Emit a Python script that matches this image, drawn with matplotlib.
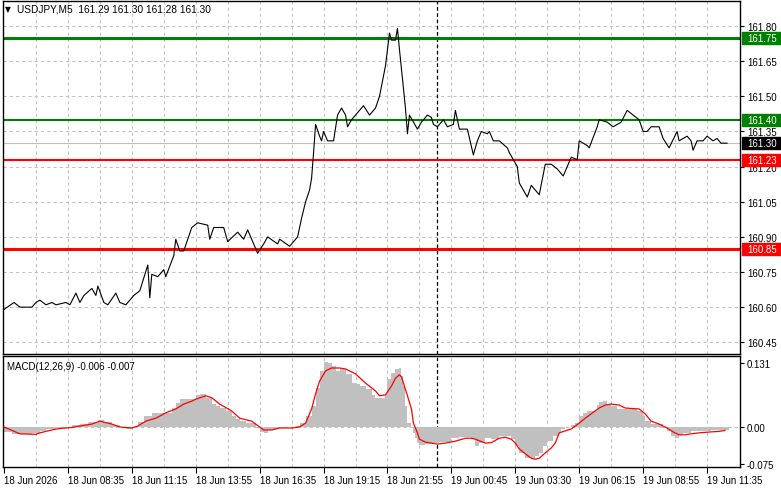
import numpy as np
import matplotlib
matplotlib.use("Agg")
import matplotlib.pyplot as plt
import matplotlib.transforms as mtransforms
from matplotlib.patches import Rectangle

plt.rcParams['font.family'] = ['Liberation Sans', 'DejaVu Sans']

# ---------------------------------------------------------------
# data (bar index on M5, close price)
price_bar = [0, 5, 8, 14, 16, 18, 21, 24, 26, 31, 33, 36, 38, 40, 44, 46, 47, 50, 52, 56,
             58, 61, 65, 68, 72, 73, 74, 77, 80, 81, 85, 86, 88, 90, 94, 97, 102, 103, 105, 110,
             112, 117, 120, 122, 124, 127, 130, 132, 137, 138, 143, 147, 149, 151, 153, 154, 155, 156, 158, 159,
             160, 162, 165, 167, 169, 171, 172, 174, 177, 180, 183, 186, 188, 191, 193, 194, 196, 197, 198, 201,
             202, 203, 205, 207, 209, 212, 214, 215, 217, 220, 222, 225, 226, 228, 232, 235, 237, 239, 242, 243,
             245, 248, 252, 253, 257, 258, 260, 262, 264, 267, 268, 271, 274, 277, 280, 282, 284, 287, 288, 292,
             293, 297, 298, 302, 305, 309, 312, 315, 318, 320, 322, 324, 328, 330, 333, 337, 338, 342, 344, 345,
             347, 350, 352, 355, 357, 359, 362]
price_close = [160.59, 160.62, 160.60, 160.60, 160.62, 160.63, 160.61, 160.62, 160.61, 160.62, 160.61, 160.66, 160.62, 160.65, 160.68, 160.65, 160.69, 160.62, 160.61, 160.66,
               160.62, 160.61, 160.65, 160.67, 160.78, 160.64, 160.74, 160.73, 160.76, 160.73, 160.82, 160.89, 160.84, 160.84, 160.94, 160.96, 160.95, 160.89, 160.94, 160.94,
               160.88, 160.92, 160.89, 160.93, 160.89, 160.83, 160.87, 160.90, 160.87, 160.89, 160.86, 160.90, 160.98, 161.05, 161.10, 161.15, 161.26, 161.38, 161.33, 161.31,
               161.35, 161.31, 161.31, 161.42, 161.45, 161.42, 161.37, 161.40, 161.43, 161.46, 161.42, 161.45, 161.50, 161.63, 161.77, 161.74, 161.74, 161.79, 161.70, 161.45,
               161.34, 161.42, 161.39, 161.36, 161.39, 161.42, 161.41, 161.38, 161.37, 161.40, 161.37, 161.38, 161.44, 161.36, 161.36, 161.25, 161.31, 161.35, 161.34, 161.35,
               161.31, 161.31, 161.28, 161.26, 161.20, 161.13, 161.10, 161.07, 161.12, 161.09, 161.08, 161.21, 161.21, 161.19, 161.16, 161.20, 161.24, 161.23, 161.31, 161.29,
               161.28, 161.37, 161.40, 161.39, 161.37, 161.39, 161.44, 161.42, 161.40, 161.35, 161.35, 161.37, 161.37, 161.32, 161.28, 161.35, 161.31, 161.33, 161.31, 161.27,
               161.31, 161.31, 161.33, 161.31, 161.32, 161.30, 161.30]

hist_bar = [0, 4, 8, 14, 18, 21, 26, 31, 34, 38, 42, 47, 50, 54, 58, 61, 64, 67, 70, 74,
            78, 84, 86, 88, 94, 96, 98, 101, 104, 106, 108, 111, 114, 116, 118, 121, 124, 126, 128, 130,
            132, 136, 141, 146, 148, 151, 154, 156, 158, 160, 162, 164, 166, 168, 171, 174, 176, 178, 181, 184,
            186, 188, 191, 192, 194, 196, 198, 199, 200, 201, 202, 204, 205, 206, 207, 208, 211, 214, 218, 224,
            228, 234, 236, 238, 241, 244, 248, 251, 254, 256, 258, 261, 264, 266, 268, 270, 272, 275, 278, 279,
            281, 284, 286, 288, 290, 292, 294, 297, 298, 300, 302, 304, 307, 312, 314, 317, 320, 321, 324, 327,
            330, 332, 334, 336, 338, 340, 344, 348, 354, 358, 362]
hist_val = [-0.010, -0.014, -0.014, -0.012, -0.008, -0.004, -0.003, -0.001, 0.004, 0.006, 0.010, 0.014, 0.010, 0.004, 0.000, -0.004, -0.002, 0.010, 0.023, 0.029,
            0.029, 0.039, 0.049, 0.057, 0.057, 0.066, 0.068, 0.060, 0.047, 0.043, 0.039, 0.033, 0.023, 0.016, 0.012, 0.008, 0.008, -0.002, -0.010, -0.012,
            -0.006, -0.002, 0.000, 0.002, 0.008, 0.023, 0.043, 0.080, 0.115, 0.133, 0.131, 0.125, 0.115, 0.119, 0.109, 0.090, 0.088, 0.084, 0.078, 0.066,
            0.060, 0.060, 0.068, 0.098, 0.111, 0.119, 0.121, 0.105, 0.084, 0.043, 0.008, 0.000, -0.012, -0.023, -0.033, -0.037, -0.035, -0.033, -0.031, -0.023,
            -0.021, -0.025, -0.039, -0.033, -0.023, -0.025, -0.018, -0.018, -0.025, -0.039, -0.053, -0.064, -0.066, -0.059, -0.053, -0.039, -0.029, -0.018, -0.012, -0.004,
            0.000, 0.004, 0.008, 0.023, 0.029, 0.033, 0.033, 0.045, 0.051, 0.053, 0.047, 0.043, 0.037, 0.037, 0.037, 0.033, 0.023, 0.012, 0.006, 0.006,
            -0.002, -0.008, -0.018, -0.023, -0.016, -0.012, -0.008, -0.008, -0.007, -0.007, -0.006]

sig_bar = [0, 8, 16, 18, 24, 28, 34, 38, 44, 48, 54, 58, 64, 67, 71, 76, 81, 86, 90, 94,
           96, 101, 104, 108, 114, 118, 124, 126, 130, 134, 138, 144, 148, 151, 154, 156, 158, 161, 164, 168,
           171, 176, 181, 186, 188, 191, 194, 196, 198, 199, 200, 202, 204, 205, 207, 208, 211, 214, 217, 221,
           226, 231, 234, 236, 241, 244, 248, 251, 254, 256, 258, 261, 264, 266, 268, 271, 274, 276, 278, 281,
           284, 286, 288, 291, 294, 296, 298, 301, 304, 308, 311, 314, 318, 321, 324, 328, 332, 335, 338, 341,
           344, 348, 354, 358, 361]
sig_val = [0.000, -0.014, -0.015, -0.012, -0.006, -0.003, -0.001, 0.002, 0.006, 0.012, 0.006, 0.000, -0.002, 0.002, 0.012, 0.018, 0.029, 0.037, 0.047, 0.053,
           0.057, 0.064, 0.060, 0.047, 0.033, 0.018, 0.012, 0.006, -0.006, -0.006, -0.002, -0.002, 0.000, 0.008, 0.037, 0.068, 0.094, 0.115, 0.121, 0.121,
           0.119, 0.109, 0.090, 0.074, 0.064, 0.066, 0.084, 0.100, 0.107, 0.103, 0.090, 0.064, 0.037, 0.008, -0.012, -0.025, -0.031, -0.033, -0.035, -0.033,
           -0.029, -0.023, -0.023, -0.025, -0.033, -0.032, -0.023, -0.021, -0.025, -0.033, -0.045, -0.055, -0.064, -0.066, -0.064, -0.053, -0.043, -0.033, -0.012, -0.008,
           -0.004, 0.002, 0.008, 0.018, 0.027, 0.033, 0.039, 0.045, 0.047, 0.045, 0.039, 0.038, 0.037, 0.027, 0.012, 0.006, -0.002, -0.010, -0.016, -0.016,
           -0.014, -0.012, -0.010, -0.009, -0.007]

# horizontal levels: (price, colour, line width in pt)
levels = [(161.75, '#008000', 2.2), (161.40, '#008000', 1.5),
          (161.23, '#ff0000', 1.5), (160.85, '#ff0000', 2.2)]
last_price = 161.30
separator_bar = 217

price_ticks = [161.80, 161.65, 161.50, 161.35, 161.20, 161.05, 160.90, 160.75, 160.60, 160.45]
macd_ticks = [0.131, 0.0, -0.075]
macd_tick_labels = ['0.131', '0.00', '-0.075']
date_labels = ['18 Jun 2026', '18 Jun 08:35', '18 Jun 11:15', '18 Jun 13:55', '18 Jun 16:35',
               '18 Jun 19:15', '18 Jun 21:55', '19 Jun 00:45', '19 Jun 03:30', '19 Jun 06:15',
               '19 Jun 08:55', '19 Jun 11:35']
label_step = 32
grid_step = 16

# ---------------------------------------------------------------
W, H = 781, 489
fig = plt.figure(figsize=(W / 100, H / 100), dpi=100)
fig.patch.set_facecolor('white')


def px_axes(x0, y0, x1, y1):
    return fig.add_axes([x0 / W, 1 - y1 / H, (x1 - x0) / W, (y1 - y0) / H])


ax = px_axes(3, 2, 740, 355)
ax2 = px_axes(3, 357, 740, 468)

fs = 7
grid_kw = dict(color='#c0c0c0', lw=0.75, ls=(0, (3, 3)), zorder=0)
xmax = 368.5

for a in (ax, ax2):
    a.set_xlim(-0.5, xmax)
    for g in range(grid_step, int(xmax), grid_step):
        a.axvline(g, **grid_kw)
    for s in a.spines.values():
        s.set_color('black')
        s.set_linewidth(1.0)
    a.yaxis.tick_right()
    a.tick_params(axis='y', length=3, width=0.8, labelsize=fs, pad=2, colors='black')
    a.axvline(separator_bar, color='black', lw=0.9, ls=(0, (3, 2)), zorder=1)

# ---- price panel
ax.set_ylim(160.400, 161.907)
for p in price_ticks:
    ax.axhline(p, **grid_kw)
ax.set_yticks(price_ticks)
ax.set_yticklabels(['%.2f' % p for p in price_ticks])
ax.set_xticks([])

ax.axhline(last_price, color='#c0c0c0', lw=0.8, zorder=1)
for lv, col, lw in levels:
    ax.axhline(lv, color=col, lw=lw, zorder=2)

ax.plot(price_bar, price_close, color='black', lw=0.8, zorder=3)

# price tags on the right scale
blend = mtransforms.blended_transform_factory(ax.transAxes, ax.transData)
box_w = 39 / 737
box_h = 12 / 234.3
tags = [(lv, col) for lv, col, _ in levels] + [(last_price, 'black')]
for lv, col in tags:
    ax.add_patch(Rectangle((1.003, lv - box_h / 2), box_w, box_h, transform=blend,
                           facecolor=col, edgecolor=col, clip_on=False, zorder=5))
    ax.text(1.003 + box_w / 2, lv, '%.2f' % lv, transform=blend, color='white',
            fontsize=fs, ha='center', va='center', clip_on=False, zorder=6)

fig.text(5 / W, 1 - 10 / H, '\u25bc', fontsize=5.5, va='center', ha='left', color='black',
         family=['DejaVu Sans'])
fig.text(17 / W, 1 - 10 / H, 'USDJPY,M5  161.29 161.30 161.28 161.30', fontsize=fs + 0.3,
         va='center', ha='left', color='black')

# ---- MACD panel
ax2.set_ylim(-0.082, 0.1456)
ax2.axhline(0, **grid_kw)
widths = np.diff(hist_bar + [hist_bar[-1] + 1])
ax2.bar(hist_bar, hist_val, width=widths, align='edge', color='#c0c0c0', linewidth=0, zorder=2)
ax2.plot(sig_bar, sig_val, color='#ff0000', lw=0.9, zorder=3)
ax2.set_yticks(macd_ticks)
ax2.set_yticklabels(macd_tick_labels)
fig.text(7 / W, 1 - 367 / H, 'MACD(12,26,9) -0.006 -0.007', fontsize=fs,
         va='center', ha='left', color='black')

xt = [i * label_step for i in range(len(date_labels))]
ax2.set_xticks(xt)
ax2.set_xticklabels(date_labels)
ax2.tick_params(axis='x', length=4, width=0.8, labelsize=fs, pad=2, colors='black')
for t in ax2.get_xticklabels():
    t.set_horizontalalignment('left')

fig.savefig('out.png', dpi=100, facecolor='white')
